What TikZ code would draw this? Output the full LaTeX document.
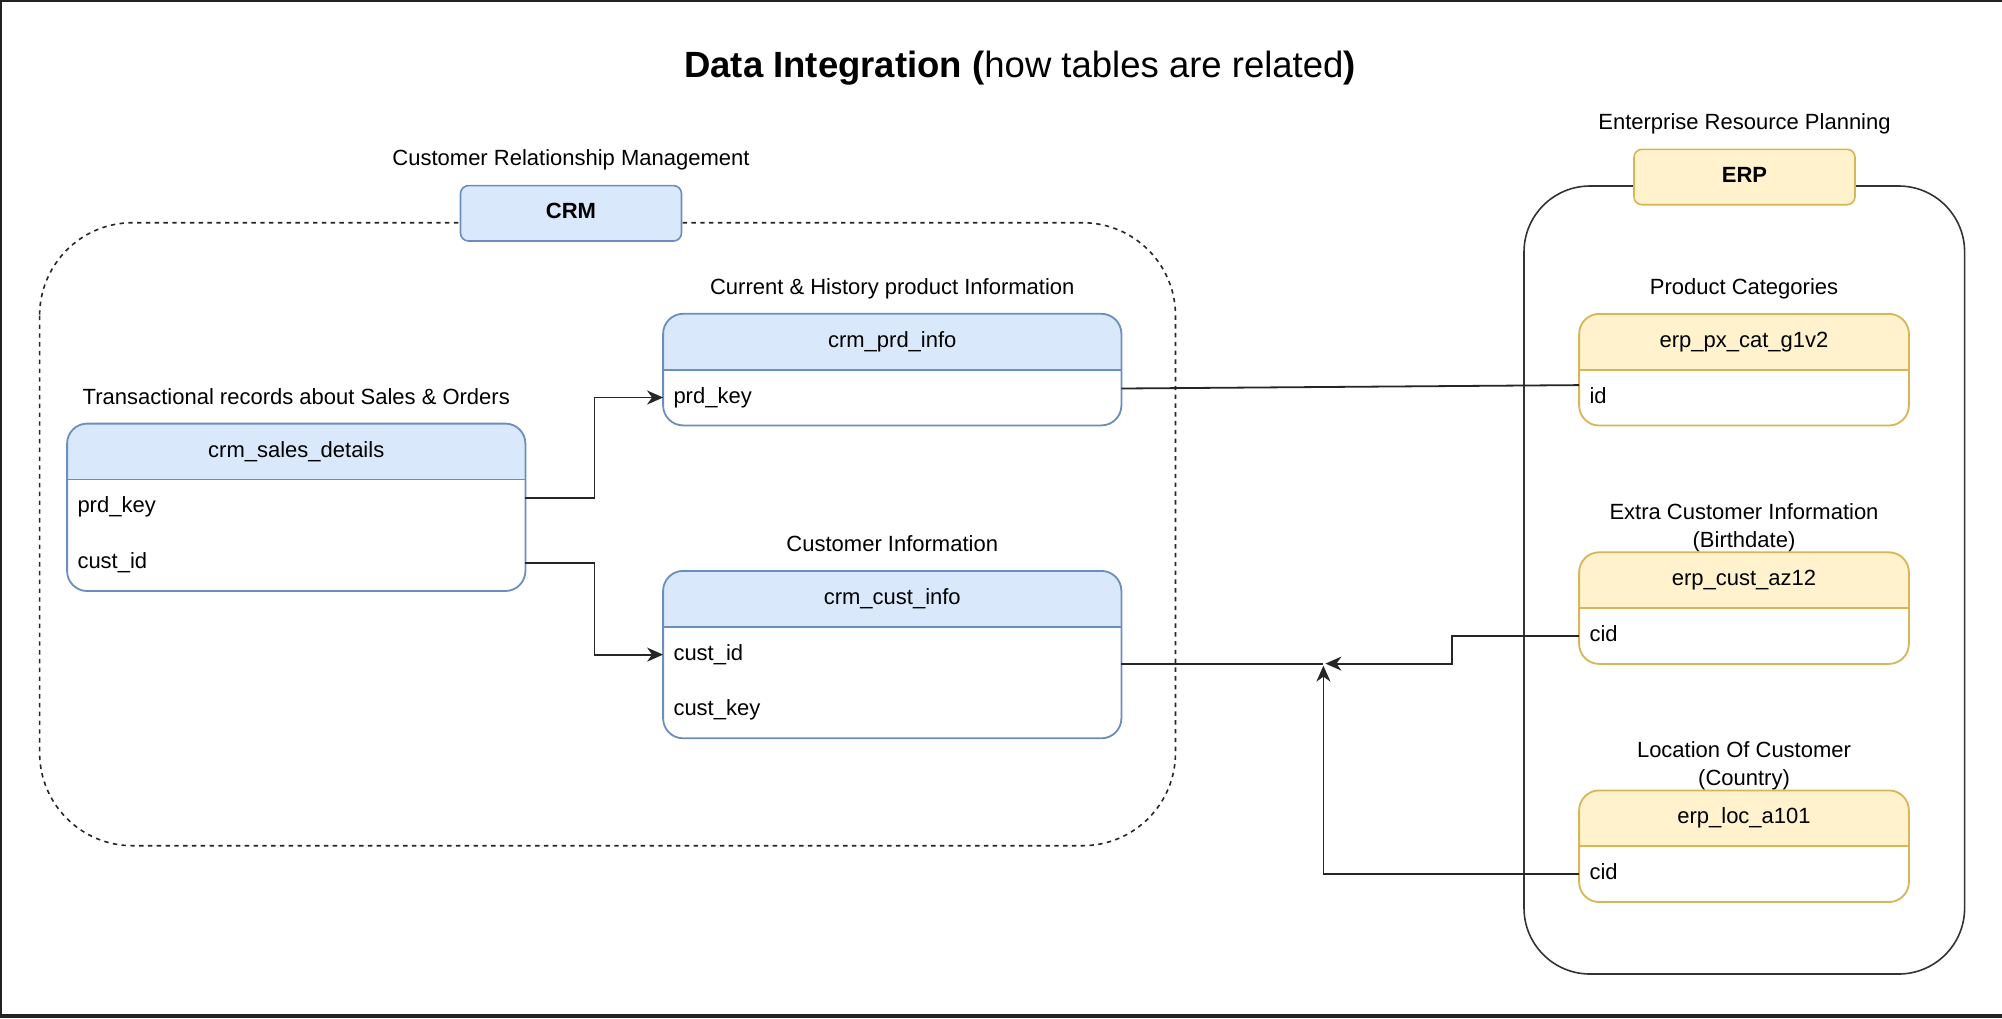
\documentclass[tikz,border=0pt]{standalone}
\usepackage{fontspec}
\setmainfont{Liberation Sans}
\usetikzlibrary{arrows.meta,positioning}
\definecolor{crmfill}{HTML}{DAE8FC}
\definecolor{crmline}{HTML}{6C8EBF}
\definecolor{erpfill}{HTML}{FFF2CC}
\definecolor{erpline}{HTML}{D6B656}
\definecolor{framecol}{HTML}{222222}
\tikzset{
  txt/.style={font=\fontsize{11}{14}\selectfont, inner sep=0pt, text height=8pt, text depth=2.5pt},
  caption/.style={txt},
  caption2/.style={font=\fontsize{11}{14}\selectfont, inner sep=0pt, align=center},
  hdr/.style={txt, minimum height=27.5pt,
    path picture={\fill[#1, rounded corners=10pt] (path picture bounding box.north west) rectangle ([yshift=-20pt]path picture bounding box.south east);}},
  crmhd/.style={hdr=crmfill, minimum width=228.75pt},
  erphd/.style={hdr=erpfill, minimum width=164.5pt},
  crmrow/.style={txt, minimum height=27.5pt, inner xsep=5pt, text width=218.75pt, align=left},
  erprow/.style={txt, minimum height=27.5pt, inner xsep=5pt, text width=154.5pt, align=left},
  tag/.style={txt, font=\fontsize{11}{14}\selectfont\bfseries, rounded corners=4pt, line width=0.8pt, minimum width=110.5pt, minimum height=27.7pt},
  tbl/.style={rounded corners=10pt, line width=0.9pt},
  line/.style={draw=black!85, line width=0.9pt},
  arr/.style={line, -{Stealth[length=8pt,width=7pt,inset=2.5pt]}},
}
\begin{document}
\begin{tikzpicture}[x=0.5pt, y=-0.5pt]
\useasboundingbox (0,0) rectangle (2002,1018);
\fill[framecol] (0,0) rectangle (2002,1018);
\fill[white] (2,2) rectangle (2002,1013.5);
% groups
\draw[black!85, line width=0.8pt, dash pattern=on 2.2pt off 2.2pt, rounded corners=46.5pt] (39.6,222.7) rectangle (1175.5,845.7);
\draw[black!80, line width=0.8pt, rounded corners=33pt] (1524,186) rectangle (1964.6,974);
\node[font=\fontsize{18.25}{22}\selectfont] (title) at (1020,68) {\textbf{Data Integration (}how tables are related\textbf{)}};
\node[tag, draw=crmline, fill=crmfill] (crm) at (571,213.3) {CRM};
\node[caption, above=7pt of crm] (crmcap) {Customer Relationship Management};
\node[tag, draw=erpline, fill=erpfill] (erp) at (1744.5,177) {ERP};
\node[caption, above=7pt of erp] (erpcap) {Enterprise Resource Planning};
% crm tables
\node[crmhd] (sales) at (296.25,451.5) {crm\_sales\_details};
\node[crmrow, below=0pt of sales] (sales-prd) {prd\_key};
\node[crmrow, below=0pt of sales-prd] (sales-cust) {cust\_id};
\node[caption, above=7pt of sales] (salescap) {Transactional records about Sales \& Orders};
\node[crmhd] (prdinfo) at (892.25,341.7) {crm\_prd\_info};
\node[crmrow, below=0pt of prdinfo] (prdinfo-key) {prd\_key};
\node[caption, above=7pt of prdinfo] (prdcap) {Current \& History product Information};
\node[crmhd] (custinfo) at (892.25,598.8) {crm\_cust\_info};
\node[crmrow, below=0pt of custinfo] (custinfo-id) {cust\_id};
\node[crmrow, below=0pt of custinfo-id] (custinfo-key) {cust\_key};
\node[caption, above=7pt of custinfo] (custcap) {Customer Information};
% erp tables
\node[erphd] (pxcat) at (1744,341.8) {erp\_px\_cat\_g1v2};
\node[erprow, below=0pt of pxcat] (pxcat-id) {id};
\node[caption, above=7pt of pxcat] (pxcap) {Product Categories};
\node[erphd] (custaz) at (1744,580.2) {erp\_cust\_az12};
\node[erprow, below=0pt of custaz] (custaz-cid) {cid};
\node[caption2, above=0pt of custaz] (azcap) {Extra Customer Information\\(Birthdate)};
\node[erphd] (loca) at (1744,818.3) {erp\_loc\_a101};
\node[erprow, below=0pt of loca] (loca-cid) {cid};
\node[caption2, above=0pt of loca] (loccap) {Location Of Customer\\(Country)};
\foreach \hd/\last/\col in {sales/sales-cust/crmline, prdinfo/prdinfo-key/crmline, custinfo/custinfo-key/crmline,
    pxcat/pxcat-id/erpline, custaz/custaz-cid/erpline, loca/loca-cid/erpline} {
  \draw[tbl, draw=\col] (\hd.north west) rectangle (\last.south east);
  \draw[draw=\col, line width=0.9pt] (\hd.south west) -- (\hd.south east);
}
% relations
\draw[arr] ([yshift=4.5pt]sales-prd.east) -- ++(69,0) |- (prdinfo-key.west);
\draw[arr] (sales-cust.east) -- ++(69,0) |- (custinfo-id.west);
\draw[line] ([yshift=4.5pt]prdinfo-key.east) -- ([yshift=6.25pt]pxcat-id.west);
\draw[line] ([yshift=-4.5pt]custinfo-id.east) -- ++(202,0) coordinate (jn);
\draw[arr] (custaz-cid.west) -- ++(-127,0) |- ([xshift=1pt]jn);
\draw[arr] (loca-cid.west) -| ([yshift=-1pt]jn);
\end{tikzpicture}
\end{document}
